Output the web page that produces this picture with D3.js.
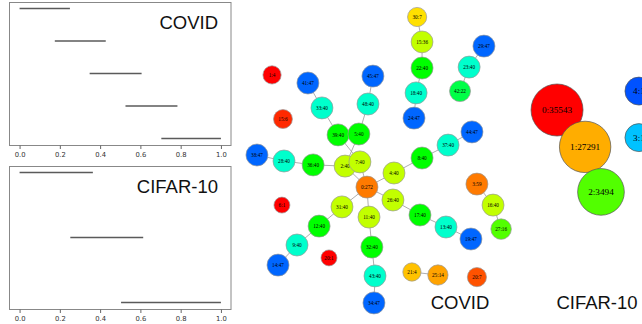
<!DOCTYPE html>
<html>
<head>
<meta charset="utf-8">
<script src="https://cdn.jsdelivr.net/npm/d3@7"></script>
<style>
  body { margin: 0; background: #fff; }
  svg { display: block; }
</style>
</head>
<body>
<svg id="chart" width="642" height="324"></svg>
<script>
// cover intervals (left panels)
const covidIntervals = [[0, 0.25], [0.175, 0.428], [0.348, 0.606], [0.526, 0.784], [0.704, 1.0]];
const cifarIntervals = [[0, 0.364], [0.252, 0.614], [0.504, 1.0]];
const xTicks = [0, 0.2, 0.4, 0.6, 0.8, 1.0];

// COVID mapper graph: node "id:count", layout coords (0-100) and lens value (0-1)
const covidNames = ["0:272", "2:40", "7:40", "4:40", "26:40", "31:40", "11:40",
  "36:40", "39:40", "5:40", "8:40", "17:40", "12:40", "32:40",
  "28:40", "33:40", "48:40", "37:40", "13:40", "9:40", "43:40",
  "38:47", "41:47", "45:47", "44:47", "19:47", "14:47", "34:47",
  "30:7", "15:36", "22:40", "18:40", "24:47", "29:47", "23:40", "42:22",
  "3:59", "16:40", "27:16", "21:4", "25:14", "1:4", "15:6", "6:1", "20:1", "20:7"];
const covidLayoutX = [46.9, 38.5, 44.2, 57.3, 56.9, 37.3, 47.7,
  26.2, 35.8, 43.8, 68.1, 67.3, 28.5, 48.8,
  15, 29.6, 47.3, 78.1, 77.3, 20, 50,
  4.6, 24.2, 49.2, 87.3, 86.9, 12.7, 49.6,
  66.2, 68.1, 68.1, 65.8, 65, 91.9, 86.2, 82.7,
  89.2, 95.4, 98.5, 64.2, 74.2, 10.4, 14.6, 14.2, 32.3, 89.2];
const covidLayoutY = [60.7, 53.7, 52.3, 56, 65, 67.3, 70.7,
  53.3, 43.3, 43, 51, 70, 73.7, 80.7,
  52, 34.3, 33, 46.7, 74, 80, 90.3,
  50, 26, 23.7, 42.3, 78, 86.7, 99.3,
  4, 12.3, 21, 29.3, 37.7, 13.7, 20.7, 28.7,
  59.7, 66.7, 74.7, 89, 90, 23.3, 38, 66.7, 84.3, 90.7];
const covidLens = [0.12, 0.31, 0.31, 0.31, 0.31, 0.31, 0.31,
  0.5, 0.5, 0.5, 0.5, 0.5, 0.5, 0.5,
  0.7, 0.7, 0.7, 0.7, 0.7, 0.7, 0.7,
  0.9, 0.9, 0.9, 0.9, 0.9, 0.9, 0.9,
  0.22, 0.31, 0.5, 0.7, 0.9, 0.9, 0.7, 0.57,
  0.12, 0.31, 0.42, 0.19, 0.16, 0, 0.04, 0, 0, 0.08];
const covidEdges = [
  ["0:272", "2:40"], ["0:272", "7:40"], ["0:272", "4:40"], ["0:272", "26:40"], ["0:272", "31:40"], ["0:272", "11:40"],
  ["2:40", "36:40"], ["36:40", "28:40"], ["28:40", "38:47"],
  ["7:40", "39:40"], ["39:40", "33:40"], ["33:40", "41:47"],
  ["2:40", "5:40"], ["5:40", "48:40"], ["48:40", "45:47"],
  ["4:40", "8:40"], ["8:40", "37:40"], ["37:40", "44:47"],
  ["26:40", "17:40"], ["17:40", "13:40"], ["13:40", "19:47"],
  ["31:40", "12:40"], ["12:40", "9:40"], ["9:40", "14:47"],
  ["11:40", "32:40"], ["32:40", "43:40"], ["43:40", "34:47"],
  ["30:7", "15:36"], ["15:36", "22:40"], ["22:40", "18:40"], ["18:40", "24:47"],
  ["29:47", "23:40"], ["23:40", "42:22"],
  ["3:59", "16:40"], ["16:40", "27:16"],
  ["21:4", "25:14"]
];

// CIFAR-10 mapper graph
const cifarNames = ["0:35543", "1:27291", "2:3494", "4:1", "3:1"];
const cifarLayoutX = [10.4, 21.2, 27.3, 41.9, 41.9];
const cifarLayoutY = [35, 47.3, 62.3, 28.7, 44.2];
const cifarLens = [0, 0.17, 0.42, 0.92, 0.81];
const cifarEdges = [["0:35543", "1:27291"], ["1:27291", "2:3494"]];

const svg = d3.select("#chart");
const lensColour = v => d3.hsl(v * 240, 1, 0.5).toString();

function intervalPanel(intervals, label, top) {
  const height = 143;
  const pad = (intervals.length - 1) * 0.05;
  const x = d3.scaleLinear().domain([-0.05, 1.05]).range([9.5, 231]);
  const y = d3.scaleLinear().domain([-pad, intervals.length - 1 + pad]).range([top, top + height]);
  const g = svg.append("g");

  g.selectAll("line.bar")
    .data(intervals)
    .enter()
    .append("line")
    .attr("class", "bar")
    .attr("x1", d => x(d[0]))
    .attr("x2", d => x(d[1]))
    .attr("y1", (d, i) => y(i))
    .attr("y2", (d, i) => y(i))
    .attr("stroke", "#5a5a5a")
    .attr("stroke-width", 1.6);

  g.append("rect")
    .attr("x", 9.5)
    .attr("y", top + 0.5)
    .attr("width", 221.5)
    .attr("height", height)
    .attr("fill", "none")
    .attr("stroke", "#888")
    .attr("stroke-width", 1);

  const axis = g.append("g")
    .attr("transform", `translate(0,${top + height + 0.5})`)
    .call(d3.axisBottom(x).tickValues(xTicks).tickFormat(d3.format(".1f")).tickSize(3.5));
  axis.select(".domain").remove();
  axis.selectAll(".tick line").attr("stroke", "#666");
  axis.selectAll("text")
    .attr("fill", "#333")
    .style("font-family", "'DejaVu Sans', sans-serif")
    .style("font-size", "6.8px");

  g.append("text")
    .attr("x", 218)
    .attr("y", top + 26.5)
    .attr("text-anchor", "end")
    .style("font-family", "'Liberation Sans', Arial, sans-serif")
    .style("font-size", "18.5px")
    .attr("fill", "#111")
    .text(label);
}

intervalPanel(covidIntervals, "COVID", 2);
intervalPanel(cifarIntervals, "CIFAR-10", 166);

function mapperGraph(names, lx, ly, lens, edges, xRange, radius, fontSize, nodeStroke) {
  const xs = d3.scaleLinear().domain([0, 100]).range(xRange);
  const ys = d3.scaleLinear().domain([0, 100]).range([5, 305]);
  const nodes = names.map((name, i) => ({
    name: name,
    count: +name.split(":")[1],
    x: xs(lx[i]),
    y: ys(ly[i]),
    lens: lens[i]
  }));
  const byName = new Map(nodes.map(n => [n.name, n]));
  const g = svg.append("g");

  g.selectAll("line")
    .data(edges)
    .enter()
    .append("line")
    .attr("x1", d => byName.get(d[0]).x)
    .attr("y1", d => byName.get(d[0]).y)
    .attr("x2", d => byName.get(d[1]).x)
    .attr("y2", d => byName.get(d[1]).y)
    .attr("stroke", "#999")
    .attr("stroke-width", 0.8);

  const node = g.selectAll("g.node")
    .data(nodes)
    .enter()
    .append("g")
    .attr("class", "node")
    .attr("transform", d => `translate(${d.x},${d.y})`);

  node.append("circle")
    .attr("r", d => radius(d.count))
    .attr("fill", d => lensColour(d.lens))
    .attr("stroke", nodeStroke)
    .attr("stroke-width", 0.7);

  node.append("text")
    .attr("text-anchor", "middle")
    .attr("dy", "0.35em")
    .style("font-family", "'Liberation Serif', 'Times New Roman', serif")
    .style("font-size", fontSize)
    .attr("fill", "#000")
    .text(d => d.name);
}

mapperGraph(covidNames, covidLayoutX, covidLayoutY, covidLens, covidEdges, [245, 505],
  d3.scaleLog().domain([1, 40]).range([8, 11]).clamp(true), "5.2px", "#999");
mapperGraph(cifarNames, cifarLayoutX, cifarLayoutY, cifarLens, cifarEdges, [530, 790],
  d3.scaleLog().domain([1, 35543]).range([14, 26]), "9.2px", "#555");

svg.append("text")
  .attr("x", 460)
  .attr("y", 309)
  .attr("text-anchor", "middle")
  .style("font-family", "'Liberation Sans', Arial, sans-serif")
  .style("font-size", "18.5px")
  .attr("fill", "#111")
  .text("COVID");

svg.append("text")
  .attr("x", 597)
  .attr("y", 309)
  .attr("text-anchor", "middle")
  .style("font-family", "'Liberation Sans', Arial, sans-serif")
  .style("font-size", "18.5px")
  .attr("fill", "#111")
  .text("CIFAR-10");
</script>
</body>
</html>
